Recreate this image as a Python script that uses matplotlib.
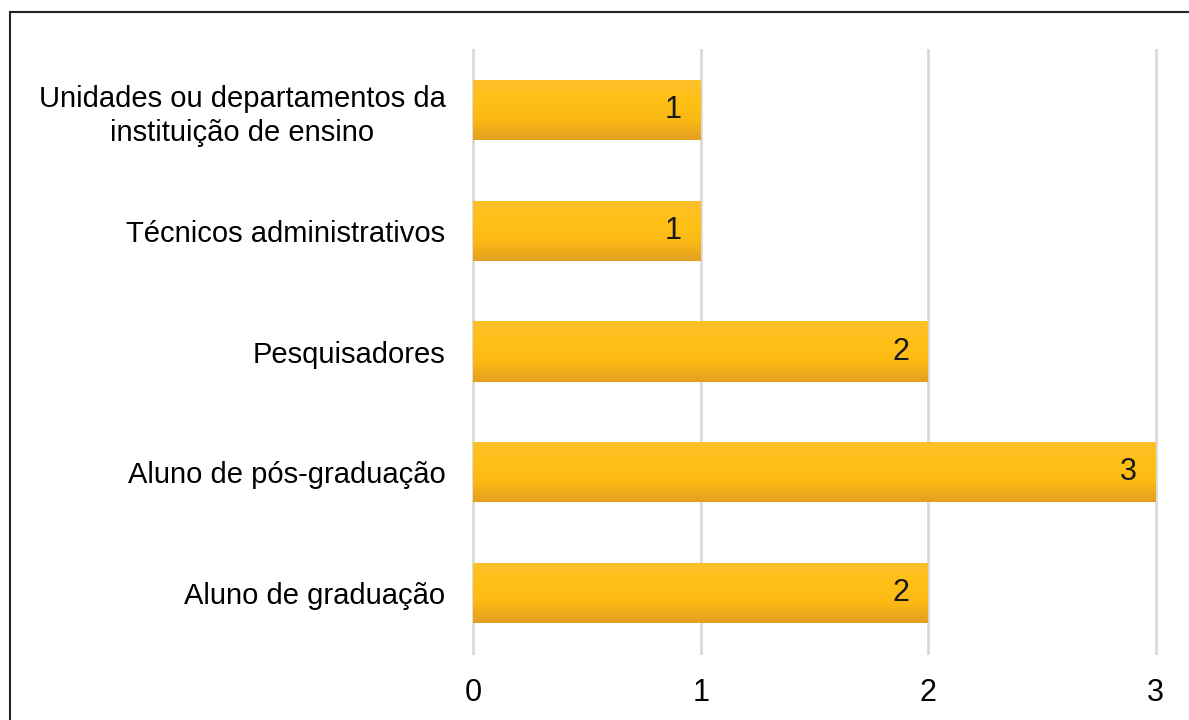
import numpy as np
import matplotlib
matplotlib.use("Agg")
import matplotlib.pyplot as plt
from matplotlib.colors import LinearSegmentedColormap
from matplotlib.patches import Rectangle

plt.rcParams['font.family'] = ['Liberation Sans', 'DejaVu Sans']

categories = ["Aluno de graduação", "Aluno de pós-graduação", "Pesquisadores",
              "Técnicos administrativos",
              "Unidades ou departamentos da\ninstituição de ensino"]
values = [2, 3, 2, 1, 1]
xticks = [0, 1, 2, 3]

fig = plt.figure(figsize=(11.89, 7.2), dpi=100)
ax = fig.add_axes([0.398, 0.093, 0.574, 0.8375])

y = np.arange(len(categories))
bars = ax.barh(y, values, height=0.5, color='#FDBA12', zorder=2)

# vertical gold gradient inside each bar
grad = LinearSegmentedColormap.from_list('gold', ['#E3A020', '#FCB914', '#FFC115', '#FDBF2C'])
g = np.linspace(0, 1, 64).reshape(-1, 1)
for b in bars:
    x0, y0 = b.get_x(), b.get_y()
    w, h = b.get_width(), b.get_height()
    im = ax.imshow(g, cmap=grad, aspect='auto', origin='lower',
                   extent=(x0, x0 + w, y0, y0 + h), zorder=2.5)
    im.set_clip_path(b)

for yi, v in zip(y, values):
    ax.text(v - 0.085, yi, str(v), ha='right', va='center', fontsize=22, color='#1a1a1a', zorder=3)

ax.set_xlim(0, 3)
ax.set_ylim(-0.5, len(categories) - 0.5)
ax.set_xticks(xticks)
ax.set_xticklabels([str(t) for t in xticks], fontsize=22)
ax.set_yticks(y)
ax.set_yticklabels(categories, fontsize=21, ha='right', multialignment='center',
                   linespacing=1.25)
ax.tick_params(axis='y', length=0, pad=20)
ax.tick_params(axis='x', length=0, pad=18)
ax.xaxis.grid(True, color='#D9D9D9', linewidth=2, zorder=0)
for gl in ax.get_xgridlines():
    gl.set_clip_on(False)
ax.set_axisbelow(True)
for s in ax.spines.values():
    s.set_visible(False)

# outer frame (cut by the image edge on the right and bottom)
fig.patches.append(Rectangle((10 / 1189, -0.1), 1.2, 1 - 12 / 720 + 0.1,
                             transform=fig.transFigure, fill=False,
                             edgecolor='#222222', linewidth=1.5))

fig.savefig('out.png', dpi=100)
